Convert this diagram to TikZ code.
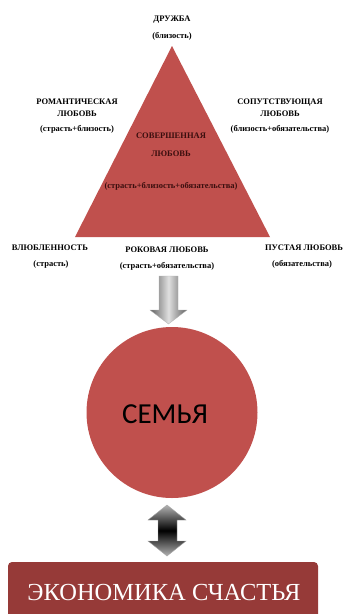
\documentclass[tikz,border=0pt]{standalone}
\usepackage{fontspec}
\setmainfont{Liberation Serif}
\newfontfamily\calibrifont{Carlito}
\definecolor{trired}{HTML}{C0504D}
\definecolor{boxred}{HTML}{963A38}
\definecolor{intext}{HTML}{3A0E0E}
\tikzset{
  lbl/.style={font=\bfseries\fontsize{8.5}{10}\selectfont, inner sep=0pt, anchor=base, text=black},
  inlbl/.style={lbl, text=intext},
  tri/.style={fill=trired},
  downarrow/.style={left color=gray!75!black, right color=gray!75!black, middle color=gray!25, draw=gray!60, line width=0.3pt},
  dblarrow/.style={top color=gray!60, bottom color=gray!60, middle color=black, draw=gray!70, line width=0.4pt},
}
\begin{document}
\begin{tikzpicture}[x=1pt,y=-1pt]
\useasboundingbox (0,0) rectangle (345,614);
\clip (0,0) rectangle (345,614);
% triangle
\coordinate (apex) at (172,46);
\coordinate (bl) at (75,237);
\coordinate (br) at (270,237);
\fill[tri] (apex) -- (bl) -- (br) -- cycle;
% labels
\node[lbl] (dr1) at (172,21) {ДРУЖБА};
\node[lbl] (dr2) at (172,38) {(близость)};
\node[lbl] (ro1) at (77,104) {РОМАНТИЧЕСКАЯ};
\node[lbl] (ro2) at (77,116) {ЛЮБОВЬ};
\node[lbl] (ro3) at (77,131) {(страсть+близость)};
\node[lbl] (so1) at (280,104) {СОПУТСТВУЮЩАЯ};
\node[lbl] (so2) at (280,116) {ЛЮБОВЬ};
\node[lbl] (so3) at (280,131) {(близость+обязательства)};
\node[inlbl] (sv1) at (171,138) {СОВЕРШЕННАЯ};
\node[inlbl] (sv2) at (171,156) {ЛЮБОВЬ};
\node[inlbl] (sv3) at (171,188) {(страсть+близость+обязательства)};
\node[lbl] (vl1) at (50,250) {ВЛЮБЛЕННОСТЬ};
\node[lbl] (vl2) at (51,266) {(страсть)};
\node[lbl] (rk1) at (167,252) {РОКОВАЯ ЛЮБОВЬ};
\node[lbl] (rk2) at (167,268) {(страсть+обязательства)};
\node[lbl] (pu1) at (304,250) {ПУСТАЯ ЛЮБОВЬ};
\node[lbl] (pu2) at (302,266) {(обязательства)};
% down arrow
\shade[downarrow] (159,276) -- (178,276) -- (178,310) -- (187,310) -- (168.5,324) -- (150,310) -- (159,310) -- cycle;
% circle
\node[circle, fill=trired, minimum size=171pt, inner sep=0pt] (fam) at (172,412.5) {};
\node[font=\calibrifont\fontsize{29}{32}\selectfont, inner sep=0pt, anchor=base] (famtxt) at (165,423) {СЕМЬЯ};
% double arrow
\shade[dblarrow] (167,505) -- (186,520) -- (177,520) -- (177,541) -- (186,541) -- (167,556) -- (148,541) -- (158,541) -- (158,520) -- (148,520) -- cycle;
% box
\node[fill=boxred, rounded corners=4pt, minimum width=310pt, minimum height=64pt, inner sep=0pt] (eco) at (163,594) {};
\node[font=\fontsize{24.5}{28}\selectfont, text=white, inner sep=0pt, anchor=base] (ecotxt) at (164,600) {ЭКОНОМИКА СЧАСТЬЯ};
\end{tikzpicture}
\end{document}
